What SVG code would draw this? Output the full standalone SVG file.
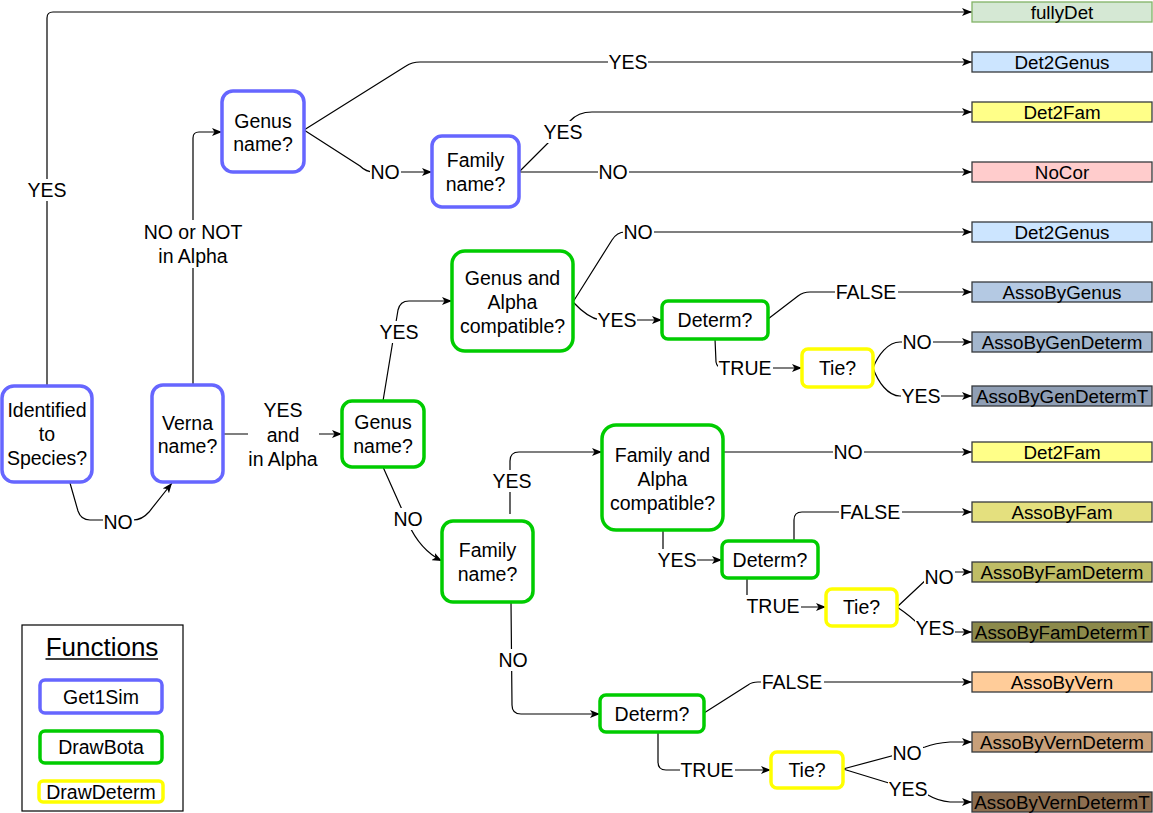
<svg xmlns="http://www.w3.org/2000/svg" width="1153" height="813" viewBox="0 0 1153 813">
<style>
text{font-family:"Liberation Sans",Arial,sans-serif;font-size:19.5px;fill:#000;text-anchor:middle}
.blue{fill:#fff;stroke:#6666ff;stroke-width:3.5}
.green{fill:#fff;stroke:#00cc00;stroke-width:3.5}
.yellow{fill:#fff;stroke:#ffff00;stroke-width:3.5}
.leaf{stroke:#36393d;stroke-width:1.3}
.leaf-t{font-size:18.8px}
.edge{fill:none;stroke:#000;stroke-width:1.2}
.arr{marker-end:url(#ah)}
.lbg{fill:#fff;stroke:none}
</style>
<defs>
<marker id="ah" markerUnits="userSpaceOnUse" viewBox="0 0 10 8" refX="10" refY="4" markerWidth="10" markerHeight="8" orient="auto">
<path d="M0,0 L10,4 L0,8 L2.5,4 Z" fill="#000"/>
</marker>
</defs>
<rect width="1153" height="813" fill="#fff"/>

<g id="connectors">
<path class="edge arr" d="M47,386 L47,18 Q47,12 53,12 L972,12"/>
<path class="edge arr" d="M70,483 L78,511 Q81,520 90,520 L133,520 Q142,520 149,512 L172,483"/>
<path class="edge arr" d="M193,385 L193,138 Q193,132 199,132 L222,132"/>
<path class="edge arr" d="M223,434 L342,434"/>
<path class="edge arr" d="M304,130 L406,66 Q412,62 420,62 L972,62"/>
<path class="edge arr" d="M304,130 L360,166 Q366,172 374,172 L432,172"/>
<path class="edge arr" d="M519,172 L570,121 Q578,112 592,112 L972,112"/>
<path class="edge arr" d="M519,172 L972,172"/>
<path class="edge arr" d="M383,401 L398,310 Q400,301 409,301 L452,301"/>
<path class="edge arr" d="M383,467 L408,523 Q420,550 442,561"/>
<path class="edge arr" d="M573,302 L612,240 Q617,232 625,232 L972,232"/>
<path class="edge arr" d="M573,302 Q588,318 600,320 L662,320"/>
<path class="edge arr" d="M768,319 L798,296 Q803,292 810,292 L972,292"/>
<path class="edge arr" d="M715,339 L716,362 Q717,368 723,368 L802,368"/>
<path class="edge arr" d="M873,368 C878,355 888,342 900,342 L972,342"/>
<path class="edge arr" d="M873,368 C878,382 888,396 900,396 L972,396"/>
<path class="edge arr" d="M510,514 L510,461 Q510,452 519,452 L602,452"/>
<path class="edge arr" d="M723,452 L972,452"/>
<path class="edge arr" d="M663,530 L663,554 Q663,560 669,560 L722,560"/>
<path class="edge arr" d="M794,541 L794,520 Q794,512 802,512 L972,512"/>
<path class="edge arr" d="M747,578 L747,601 Q747,607 753,607 L826,607"/>
<path class="edge arr" d="M897,607 L928,578 Q935,572 945,572 L972,572"/>
<path class="edge arr" d="M897,607 Q912,617 920,626 Q926,632 936,632 L972,632"/>
<path class="edge arr" d="M511,602 L512,705 Q512,714 521,714 L600,714"/>
<path class="edge arr" d="M704,713 L748,685 Q752,682 758,682 L972,682"/>
<path class="edge arr" d="M658,732 L658,762 Q658,770 666,770 L771,770"/>
<path class="edge arr" d="M843,769 L925,747 Q935,743 950,742 L972,742"/>
<path class="edge arr" d="M843,769 L928,795 Q938,801 950,802 L972,802"/>

<g id="edge-labels">
<rect class="lbg" x="27" y="179" width="40" height="22"/><text x="47" y="197">YES</text>
<rect class="lbg" x="142" y="220" width="102" height="48"/><text x="193" y="239">NO or NOT</text><text x="193" y="263">in Alpha</text>
<rect class="lbg" x="248" y="398" width="71" height="72"/><text x="283" y="417">YES</text><text x="283" y="442">and</text><text x="283" y="466">in Alpha</text>
<rect class="lbg" x="103" y="511" width="31" height="22"/><text x="118" y="529">NO</text>
<rect class="lbg" x="608" y="51" width="40" height="22"/><text x="628" y="69">YES</text>
<rect class="lbg" x="370" y="161" width="31" height="22"/><text x="385" y="179">NO</text>
<rect class="lbg" x="543" y="121" width="40" height="22"/><text x="563" y="139">YES</text>
<rect class="lbg" x="598" y="161" width="31" height="22"/><text x="613" y="179">NO</text>
<rect class="lbg" x="623" y="221" width="31" height="22"/><text x="638" y="239">NO</text>
<rect class="lbg" x="597" y="309" width="40" height="22"/><text x="617" y="327">YES</text>
<rect class="lbg" x="835" y="281" width="63" height="22"/><text x="866" y="299">FALSE</text>
<rect class="lbg" x="718" y="357" width="55" height="22"/><text x="745" y="375">TRUE</text>
<rect class="lbg" x="902" y="331" width="31" height="22"/><text x="917" y="349">NO</text>
<rect class="lbg" x="901" y="385" width="40" height="22"/><text x="921" y="403">YES</text>
<rect class="lbg" x="379" y="321" width="40" height="22"/><text x="399" y="339">YES</text>
<rect class="lbg" x="393" y="508" width="31" height="22"/><text x="408" y="526">NO</text>
<rect class="lbg" x="492" y="470" width="40" height="22"/><text x="512" y="488">YES</text>
<rect class="lbg" x="833" y="441" width="31" height="22"/><text x="848" y="459">NO</text>
<rect class="lbg" x="657" y="549" width="40" height="22"/><text x="677" y="567">YES</text>
<rect class="lbg" x="839" y="501" width="63" height="22"/><text x="870" y="519">FALSE</text>
<rect class="lbg" x="746" y="595" width="55" height="22"/><text x="773" y="613">TRUE</text>
<rect class="lbg" x="924" y="566" width="31" height="22"/><text x="939" y="584">NO</text>
<rect class="lbg" x="915" y="617" width="40" height="22"/><text x="935" y="635">YES</text>
<rect class="lbg" x="498" y="649" width="31" height="22"/><text x="513" y="667">NO</text>
<rect class="lbg" x="761" y="671" width="63" height="22"/><text x="792" y="689">FALSE</text>
<rect class="lbg" x="680" y="759" width="55" height="22"/><text x="707" y="777">TRUE</text>
<rect class="lbg" x="892" y="742" width="31" height="22"/><text x="907" y="760">NO</text>
<rect class="lbg" x="888" y="778" width="40" height="22"/><text x="908" y="796">YES</text>
</g>
</g>

<g id="n-identified"><rect class="blue" x="2" y="386" width="90" height="96" rx="12"/><text x="47" y="417">Identified</text><text x="47" y="441">to</text><text x="47" y="465">Species?</text></g>
<g id="n-verna"><rect class="blue" x="152" y="385" width="71" height="97" rx="11"/><text x="187.5" y="430">Verna</text><text x="187.5" y="453">name?</text></g>
<g id="n-genus-blue"><rect class="blue" x="222" y="91" width="82" height="81" rx="11"/><text x="263" y="128">Genus</text><text x="263" y="151">name?</text></g>
<g id="n-family-blue"><rect class="blue" x="432" y="136" width="87" height="71" rx="10"/><text x="475.5" y="167">Family</text><text x="475.5" y="191">name?</text></g>
<g id="n-genus-alpha"><rect class="green" x="452" y="251" width="121" height="100" rx="13"/><text x="512.5" y="285">Genus and</text><text x="512.5" y="309">Alpha</text><text x="512.5" y="333">compatible?</text></g>
<g id="n-determ1"><rect class="green" x="662" y="301" width="106" height="38" rx="6"/><text x="715" y="327">Determ?</text></g>
<g id="n-tie1"><rect class="yellow" x="802" y="349" width="71" height="38" rx="6"/><text x="837.5" y="375">Tie?</text></g>
<g id="n-genus-green"><rect class="green" x="342" y="401" width="82" height="66" rx="10"/><text x="383" y="429">Genus</text><text x="383" y="453">name?</text></g>
<g id="n-family-green"><rect class="green" x="442" y="521" width="91" height="81" rx="11"/><text x="487.5" y="557">Family</text><text x="487.5" y="581">name?</text></g>
<g id="n-family-alpha"><rect class="green" x="602" y="425" width="121" height="105" rx="14"/><text x="662.5" y="462">Family and</text><text x="662.5" y="486">Alpha</text><text x="662.5" y="510">compatible?</text></g>
<g id="n-determ2"><rect class="green" x="722" y="541" width="96" height="37" rx="6"/><text x="770" y="567">Determ?</text></g>
<g id="n-tie2"><rect class="yellow" x="826" y="589" width="71" height="37" rx="6"/><text x="861.5" y="614">Tie?</text></g>
<g id="n-determ3"><rect class="green" x="600" y="695" width="104" height="37" rx="6"/><text x="652" y="721">Determ?</text></g>
<g id="n-tie3"><rect class="yellow" x="771" y="752" width="72" height="36" rx="6"/><text x="807" y="777">Tie?</text></g>

<g id="l-fullyDet"><rect class="leaf" x="972" y="2" width="180" height="20" fill="#d5e8d4" stroke="#82b366" style="stroke:#82b366"/><text class="leaf-t" x="1062" y="18.5">fullyDet</text></g>
<g id="l-det2genus1"><rect class="leaf" x="972" y="52" width="180" height="20" fill="#cce5ff"/><text class="leaf-t" x="1062" y="68.5">Det2Genus</text></g>
<g id="l-det2fam1"><rect class="leaf" x="972" y="102" width="180" height="20" fill="#ffff88"/><text class="leaf-t" x="1062" y="118.5">Det2Fam</text></g>
<g id="l-nocor"><rect class="leaf" x="972" y="162" width="180" height="20" fill="#ffcccc"/><text class="leaf-t" x="1062" y="178.5">NoCor</text></g>
<g id="l-det2genus2"><rect class="leaf" x="972" y="222" width="180" height="20" fill="#cce5ff"/><text class="leaf-t" x="1062" y="238.5">Det2Genus</text></g>
<g id="l-assobygenus"><rect class="leaf" x="972" y="282" width="180" height="20" fill="#b4c9e3"/><text class="leaf-t" x="1062" y="298.5">AssoByGenus</text></g>
<g id="l-assobygendeterm"><rect class="leaf" x="972" y="332" width="180" height="20" fill="#a3b6cd"/><text class="leaf-t" x="1062" y="348.5">AssoByGenDeterm</text></g>
<g id="l-assobygendetermt"><rect class="leaf" x="972" y="386" width="180" height="20" fill="#8f9eb4"/><text class="leaf-t" x="1062" y="402.5">AssoByGenDetermT</text></g>
<g id="l-det2fam2"><rect class="leaf" x="972" y="442" width="180" height="20" fill="#ffff88"/><text class="leaf-t" x="1062" y="458.5">Det2Fam</text></g>
<g id="l-assobyfam"><rect class="leaf" x="972" y="502" width="180" height="20" fill="#e4e07e"/><text class="leaf-t" x="1062" y="518.5">AssoByFam</text></g>
<g id="l-assobyfamdeterm"><rect class="leaf" x="972" y="562" width="180" height="20" fill="#bfbd66"/><text class="leaf-t" x="1062" y="578.5">AssoByFamDeterm</text></g>
<g id="l-assobyfamdetermt"><rect class="leaf" x="972" y="622" width="180" height="20" fill="#8c8a4b"/><text class="leaf-t" x="1062" y="638.5">AssoByFamDetermT</text></g>
<g id="l-assobyvern"><rect class="leaf" x="972" y="672" width="180" height="20" fill="#ffcc99"/><text class="leaf-t" x="1062" y="688.5">AssoByVern</text></g>
<g id="l-assobyverndeterm"><rect class="leaf" x="972" y="732" width="180" height="20" fill="#c8a07a"/><text class="leaf-t" x="1062" y="748.5">AssoByVernDeterm</text></g>
<g id="l-assobyverndetermt"><rect class="leaf" x="972" y="792" width="180" height="20" fill="#8c6e50"/><text class="leaf-t" x="1062" y="808.5">AssoByVernDetermT</text></g>

<g id="legend">
<rect x="22" y="625" width="161" height="186" fill="#fff" stroke="#000" stroke-width="1.2"/>
<text x="102" y="656" style="font-size:26px">Functions</text>
<line x1="45.5" y1="659" x2="158" y2="659" stroke="#000" stroke-width="1.3"/>
<g id="legend-get1sim"><rect class="blue" x="40" y="680" width="122" height="33" rx="5"/><text x="101" y="704">Get1Sim</text></g>
<g id="legend-drawbota"><rect class="green" x="40" y="731" width="122" height="32" rx="5"/><text x="101" y="754">DrawBota</text></g>
<g id="legend-drawdeterm"><rect class="yellow" x="39" y="781" width="124" height="21" rx="4"/><text x="101" y="799">DrawDeterm</text></g>
</g>
</svg>
